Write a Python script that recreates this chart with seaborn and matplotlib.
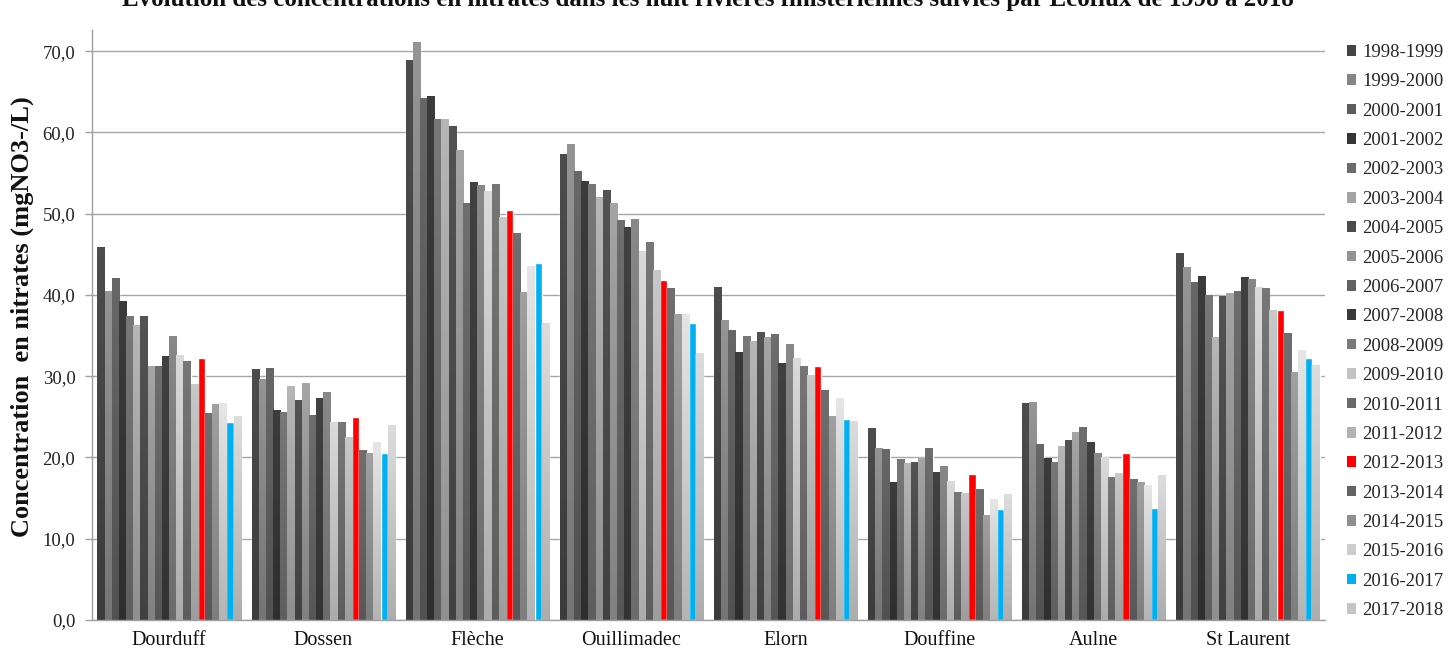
import numpy as np
import pandas as pd
import matplotlib
matplotlib.use("Agg")
import matplotlib.pyplot as plt
import matplotlib.colors as mcolors
from matplotlib.patches import Patch
import seaborn as sns

rivieres = ["Dourduff", "Dossen", "Flèche", "Ouillimadec", "Elorn",
            "Douffine", "Aulne", "St Laurent"]

saisons = ["1998-1999", "1999-2000", "2000-2001", "2001-2002", "2002-2003",
           "2003-2004", "2004-2005", "2005-2006", "2006-2007", "2007-2008",
           "2008-2009", "2009-2010", "2010-2011", "2011-2012", "2012-2013",
           "2013-2014", "2014-2015", "2015-2016", "2016-2017", "2017-2018"]

couleurs = ["#444444", "#858585", "#5c5c5c", "#353535", "#6b6b6b",
            "#a3a3a3", "#4a4a4a", "#939393", "#626262", "#3a3a3a",
            "#7a7a7a", "#c3c3c3", "#6a6a6a", "#b3b3b3", "#ff0000",
            "#636363", "#8f8f8f", "#cdcdcd", "#00b0f0", "#c5c5c5"]

# Mean nitrate concentration (mgNO3-/L) per season, one list per river
dourduff = [45.9, 40.5, 42.1, 39.3, 37.4, 36.3, 37.4, 31.2, 31.2, 32.5,
            35.0, 32.6, 31.9, 29.1, 32.3, 25.5, 26.6, 26.7, 24.4, 25.1]
dossen = [30.9, 29.6, 31.0, 25.8, 25.6, 28.8, 27.1, 29.2, 25.2, 27.3,
          28.1, 24.4, 24.4, 22.5, 25.0, 20.9, 20.6, 21.9, 20.5, 24.0]
fleche = [68.9, 71.1, 64.2, 64.5, 61.6, 61.6, 60.8, 57.8, 51.3, 53.9,
          53.5, 52.8, 53.6, 49.6, 50.5, 47.6, 40.3, 43.6, 43.9, 36.6]
ouillimadec = [57.3, 58.6, 55.3, 54.0, 53.7, 52.1, 52.9, 51.3, 49.2, 48.3,
               49.4, 45.4, 46.5, 43.1, 41.8, 40.8, 37.7, 37.7, 36.6, 32.9]
elorn = [41.0, 36.9, 35.7, 33.0, 34.9, 34.3, 35.5, 34.8, 35.2, 31.6,
         34.0, 32.3, 31.2, 30.1, 31.2, 28.3, 25.1, 27.3, 24.7, 24.5]
douffine = [23.6, 21.2, 21.0, 17.0, 19.8, 19.3, 19.4, 19.9, 21.2, 18.2,
            18.9, 17.1, 15.7, 15.6, 18.0, 16.1, 12.9, 14.9, 13.7, 15.5]
aulne = [26.7, 26.8, 21.6, 19.9, 19.5, 21.4, 22.2, 23.1, 23.8, 21.9,
         20.6, 20.1, 17.6, 18.1, 20.6, 17.3, 17.0, 16.6, 13.8, 17.9]
st_laurent = [45.1, 43.4, 41.6, 42.3, 40.0, 34.8, 39.9, 40.2, 40.5, 42.2,
              42.0, 41.0, 40.9, 38.1, 38.1, 35.3, 30.5, 33.2, 32.2, 31.4]

series = [dourduff, dossen, fleche, ouillimadec, elorn, douffine, aulne, st_laurent]

df = pd.DataFrame(
    [(r, s, v) for r, vals in zip(rivieres, series) for s, v in zip(saisons, vals)],
    columns=["riviere", "saison", "valeur"],
)

sns.set_theme(style="white")
plt.rcParams["font.family"] = ["Liberation Serif", "DejaVu Serif"]

fig = plt.figure(figsize=(14.5, 6.49), dpi=100)
ax = fig.add_axes([92 / 1450, 1 - 620 / 649, (1325 - 92) / 1450, 590 / 649])

sns.barplot(data=df, x="riviere", y="valeur", hue="saison", hue_order=saisons,
            order=rivieres, palette=dict(zip(saisons, couleurs)), width=0.93,
            gap=0, saturation=1, errorbar=None, legend=False, ax=ax)

# Vertical shading inside each grey bar: lighter at the top, darker at the base
for patch in list(ax.patches):
    rgb = np.array(mcolors.to_rgb(patch.get_facecolor()))
    if np.ptp(rgb) > 0.05:
        continue
    x0, y0 = patch.get_x(), patch.get_y()
    w, h = patch.get_width(), patch.get_height()
    t = np.linspace(1.12, 0.88, 64)[:, None]
    grad = np.clip(rgb[None, :] * t, 0, 1)[:, None, :]
    im = ax.imshow(grad, extent=[x0, x0 + w, y0, y0 + h], aspect="auto",
                   origin="upper", zorder=patch.get_zorder(), interpolation="bilinear")
    im.set_clip_path(patch)

ax.set_xlim(-0.5, len(rivieres) - 0.5)
ax.set_ylim(0, 72.6)
ax.set_yticks(np.arange(0, 71, 10))
ax.set_yticklabels([f"{v:.1f}".replace(".", ",") for v in np.arange(0, 71, 10)])
ax.yaxis.grid(True, color="#a6a6a6", lw=1)
ax.xaxis.grid(False)
ax.set_axisbelow(True)

for side in ("top", "right"):
    ax.spines[side].set_visible(False)
for side in ("left", "bottom"):
    ax.spines[side].set_color("#a0a0a0")
    ax.spines[side].set_linewidth(1)

ax.tick_params(axis="y", length=5, width=1, color="#a0a0a0", pad=7,
               labelsize=13.5, labelcolor="#222222", left=True)
ax.tick_params(axis="x", length=0, pad=8, labelsize=14.5, labelcolor="#111111")
ax.set_xlabel("")
ax.set_ylabel("Concentration  en nitrates (mgNO3-/L)", fontsize=19,
              fontweight="bold", color="#111111")
ax.yaxis.set_label_coords(-0.047, 0.515)

handles = [Patch(facecolor=c, edgecolor="none", label=s) for s, c in zip(saisons, couleurs)]
fig.legend(handles=handles, loc="upper left", bbox_to_anchor=(1347 / 1450, 1 - 44 / 649),
           frameon=False, fontsize=13.5, handlelength=0.5, handleheight=0.5,
           handletextpad=0.3, labelspacing=0.66, borderpad=0, borderaxespad=0)

fig.text(0.488, 1 - 6 / 649,
         "Évolution des concentrations en nitrates dans les huit rivières finistériennes "
         "suivies par Ecoflux de 1998 à 2018",
         ha="center", va="baseline", fontsize=18, fontweight="bold", color="#111111")

fig.savefig("out.png", dpi=100)
